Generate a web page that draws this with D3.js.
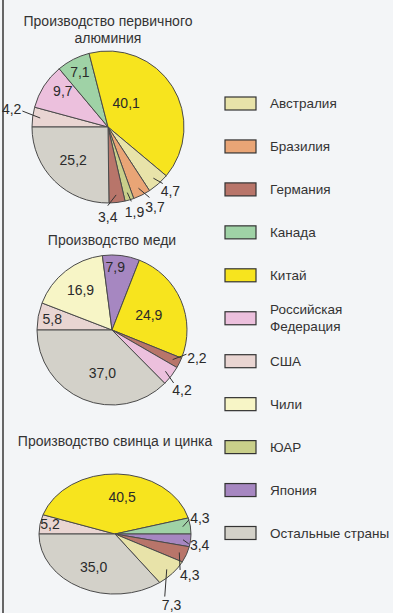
<!DOCTYPE html>
<html>
<head>
<meta charset="utf-8">
<title>Производство алюминия, меди, свинца и цинка</title>
<style>
  body { margin: 0; background: #f3f5f7; }
  svg { display: block; }
  text { font-family: "Liberation Sans", Arial, sans-serif; fill: #333; }
  .title { font-size: 14px; text-anchor: middle; }
  .val { font-size: 14px; text-anchor: middle; fill: #2a2a2a; }
  .leg { font-size: 13.5px; }
  .slice { stroke: #4a4a4a; stroke-width: 1; vector-effect: non-scaling-stroke; }
  .leader { stroke: #333; stroke-width: 1; }
</style>
</head>
<body>
<div id="chart"></div>
<script src="https://d3js.org/d3.v7.min.js"></script>
<script>
// legend order and colours
var countries = ["Австралия", "Бразилия", "Германия", "Канада", "Китай", "Российская Федерация", "США", "Чили", "ЮАР", "Япония", "Остальные страны"];
var colors = ["#e8e3a9", "#e9a576", "#b8756a", "#9fd2a6", "#f7e41e", "#ecc0dd", "#e9d5d2", "#f7f5c6", "#c9cf8a", "#a687c1", "#d3d1c9"];

// slices go clockwise starting from the left horizontal (США first)
var aluNames = ["США", "Российская Федерация", "Канада", "Китай", "Австралия", "Бразилия", "ЮАР", "Германия", "Остальные страны"];
var aluValues = [4.2, 9.7, 7.1, 40.1, 4.7, 3.7, 1.9, 3.4, 25.2];

var copperNames = ["США", "Чили", "Япония", "Китай", "Германия", "Российская Федерация", "Остальные страны"];
var copperValues = [5.8, 16.9, 7.9, 24.9, 2.2, 4.2, 37.0];

var leadNames = ["США", "Китай", "Канада", "Япония", "Германия", "Австралия", "Остальные страны"];
var leadValues = [5.2, 40.5, 4.3, 3.4, 4.3, 7.3, 35.0];

// label placement: [angle shift in degrees, radius as share of r]; >1 means outside with a leader line
var aluLabelPos = [[3, 1.29], [6, 0.76], [0, 0.81], [-21, 0.4], [-2.5, 1.18], [-4, 1.22], [-1, 1.17], [7, 1.18], [2, 0.63]];
var copperLabelPos = [[0, 0.81], [0, 0.68], [-4, 0.84], [1, 0.53], [-8, 1.19], [3, 1.23], [-10, 0.59]];
var leadLabelPos = [[1.5, 0.87], [7, 0.62], [-6, 1.15], [3.5, 1.13], [15, 1.2], [17, 1.4], [0, 0.62]];

var W = 393, H = 613;
var svg = d3.select("#chart").append("svg").attr("width", W).attr("height", H);
var color = d3.scaleOrdinal().domain(countries).range(colors);

// dark edge on the left of the page
svg.append("line").attr("x1", 3).attr("x2", 3).attr("y1", 0).attr("y2", H)
  .attr("stroke", "#666").attr("stroke-width", 2);

var charts = [
  {title: ["Производство первичного", "алюминия"], titleY: 21, names: aluNames, values: aluValues, lp: aluLabelPos, cx: 108, cy: 127, r: 76, sy: 1},
  {title: ["Производство меди"], titleY: 240, names: copperNames, values: copperValues, lp: copperLabelPos, cx: 112, cy: 330, r: 75, sy: 1},
  {title: ["Производство свинца и цинка"], titleY: 441, names: leadNames, values: leadValues, lp: leadLabelPos, cx: 115, cy: 534, r: 76, sy: 0.79}
];

var pie = d3.pie().sort(null).value(function(d) { return d.v; })
  .startAngle(-Math.PI / 2).endAngle(1.5 * Math.PI);

function fmt(v) { return d3.format(".1f")(v).replace(".", ","); }

charts.forEach(function(c) {
  var data = c.names.map(function(n, i) { return {name: n, v: c.values[i], lp: c.lp[i]}; });
  var arcs = pie(data);
  var arc = d3.arc().innerRadius(0).outerRadius(c.r);

  // title
  svg.append("g").selectAll("text").data(c.title).enter().append("text")
    .attr("class", "title")
    .attr("x", c.cx)
    .attr("y", function(d, i) { return c.titleY + i * 17; })
    .attr("dy", "0.35em")
    .text(function(d) { return d; });

  // slices
  svg.append("g")
    .attr("transform", "translate(" + c.cx + "," + c.cy + ") scale(1," + c.sy + ")")
    .selectAll("path").data(arcs).enter().append("path")
    .attr("class", "slice")
    .attr("d", arc)
    .attr("fill", function(d) { return color(d.data.name); });

  function pt(a, R) {
    return [c.cx + R * Math.sin(a), c.cy - R * Math.cos(a) * c.sy];
  }

  arcs.forEach(function(d) {
    var mid = (d.startAngle + d.endAngle) / 2;
    var a = mid + d.data.lp[0] * Math.PI / 180;
    var p = pt(a, d.data.lp[1] * c.r);
    if (d.data.lp[1] > 1) {
      var s = pt(mid, 0.9 * c.r);
      var dx = c.cx - p[0], dy = c.cy - p[1], len = Math.sqrt(dx * dx + dy * dy);
      svg.append("line").attr("class", "leader")
        .attr("x1", s[0]).attr("y1", s[1])
        .attr("x2", p[0] + dx / len * 11).attr("y2", p[1] + dy / len * 11);
    }
    svg.append("text").attr("class", "val")
      .attr("x", p[0]).attr("y", p[1]).attr("dy", "0.35em")
      .text(fmt(d.data.v));
  });
});

// legend
var ly = d3.scaleLinear().domain([0, countries.length - 1]).range([103.5, 533]);
var leg = svg.append("g").selectAll("g").data(countries).enter().append("g")
  .attr("transform", function(d, i) { return "translate(225," + ly(i) + ")"; });
leg.append("rect")
  .attr("x", 0).attr("y", -6.5).attr("width", 31).attr("height", 13)
  .attr("fill", function(d) { return color(d); })
  .attr("stroke", "#333").attr("stroke-width", 1.2);
leg.append("text").attr("class", "leg")
  .selectAll("tspan")
  .data(function(d) { return d == "Российская Федерация" ? ["Российская", "Федерация"] : [d]; })
  .enter().append("tspan")
  .attr("x", 45)
  .attr("y", function(d, i, nodes) { return nodes.length > 1 ? (i == 0 ? -8.5 : 8.5) : 0; })
  .attr("dy", "0.35em")
  .text(function(d) { return d; });
</script>
</body>
</html>
